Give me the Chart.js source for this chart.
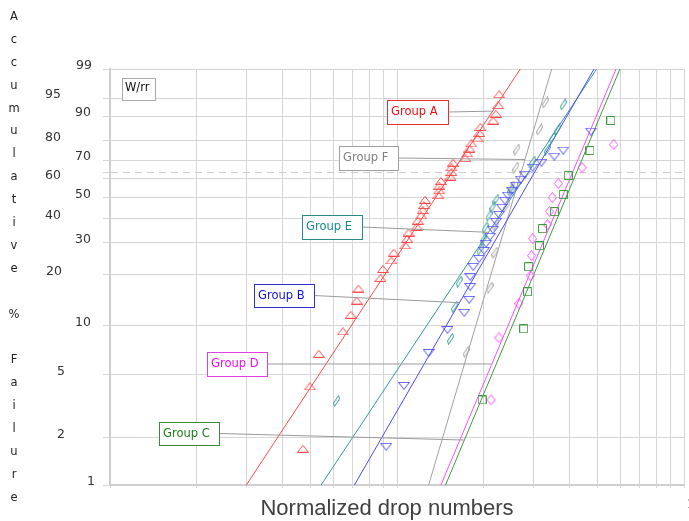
<!DOCTYPE html>
<html>
<head>
<meta charset="utf-8">
<script src="https://cdn.jsdelivr.net/npm/chart.js@4.4.0/dist/chart.umd.min.js"></script>
<style>
html, body { margin: 0; padding: 0; background: #fff; }
</style>
</head>
<body>
<canvas id="plot" width="689" height="521"></canvas>
<script>
// percent failure tick labels (Weibull probability scale)
const yTickPercents = [1, 2, 5, 10, 20, 30, 40, 50, 60, 70, 80, 90, 95, 99];
const characteristicPct = 63.2;
const xTicks = [1, 2, 3, 4, 5, 6, 7, 8, 9, 10, 20, 30, 40, 50, 60, 70, 80, 90, 100];

const groupNames = ['Group A', 'Group B', 'Group C', 'Group D', 'Group E', 'Group F'];

const aDrops = [4.70, 4.97, 5.34, 6.48, 6.90, 7.24, 7.34, 8.76, 8.93, 9.56, 9.74, 10.68, 10.85, 10.97, 11.72, 11.81, 12.13, 12.29, 12.42, 12.52, 13.93, 14.04, 14.04, 14.22, 15.36, 15.48, 15.48, 15.69, 17.30, 17.57, 17.89, 18.14, 19.12, 19.37, 19.53, 21.65, 22.12, 22.53, 22.71];
const aPct = [1.7, 4.2, 6.7, 9.2, 11.6, 14.1, 16.6, 19.1, 21.5, 24.0, 26.5, 29.0, 31.4, 33.9, 36.4, 38.9, 41.3, 43.8, 46.3, 48.8, 51.2, 53.7, 56.2, 58.7, 61.1, 63.6, 66.1, 68.6, 71.0, 73.5, 76.0, 78.5, 80.9, 83.4, 85.9, 88.4, 90.8, 93.3, 95.8];

const bDrops = [9.17, 10.57, 12.89, 14.99, 17.16, 17.85, 17.99, 17.99, 18.43, 19.33, 20.11, 20.43, 21.09, 21.60, 22.12, 22.66, 23.20, 23.76, 24.33, 25.12, 25.93, 26.98, 27.85, 29.68, 31.87, 35.34, 37.96, 47.41];
const bPct = [1.75, 4.24, 6.80, 9.41, 11.94, 14.27, 17.0, 19.43, 22.14, 24.55, 27.16, 29.66, 32.29, 35.09, 38.51, 41.67, 45.01, 48.47, 51.03, 53.6, 56.27, 59.5, 62.18, 66.0, 68.67, 71.88, 74.98, 84.01];

const cDrops = [19.8, 27.64, 28.51, 28.74, 31.37, 32.13, 35.34, 37.96, 39.51, 47.03, 55.57];
const cPct = [3.46, 9.55, 15.91, 22.14, 28.92, 35.51, 43.09, 51.52, 61.67, 74.98, 88.44];

const dDrops = [21.26, 22.66, 26.56, 29.21, 29.44, 29.68, 33.44, 33.96, 34.78, 36.48, 44.15, 56.92];
const dPct = [3.46, 8.41, 13.52, 19.70, 25.52, 31.50, 37.2, 43.09, 49.98, 57.35, 66.0, 78.0];

const eDrops = [6.16, 15.36, 15.85, 16.49, 19.49, 19.95, 20.27, 20.93, 21.60, 22.12, 24.93, 29.68, 33.44, 34.78, 36.19, 37.96];
const ePct = [3.41, 8.30, 12.96, 18.19, 27.51, 31.14, 35.94, 41.23, 45.48, 48.98, 54.14, 69.2, 75.5, 81.34, 84.88, 93.49];

const fDrops = [17.43, 21.09, 21.95, 22.12, 24.14, 25.12, 25.93, 26.14, 31.37, 32.9];
const fPct = [6.90, 16.79, 26.5, 37.2, 45.97, 55.72, 66.0, 75.5, 84.88, 93.99];

// fitted lines: drop number at 1% and at 99%
const lineLow = [2.985, 7.108, 14.76, 14.22, 5.439, 12.89];
const lineHigh = [26.9, 48.6, 59.8, 58.0, 49.6, 34.6];
// where each label's leader touches its line (percent)
const leaderPct = [91.6, 13.7, 1.93, 5.8, 34, 70.3];

// styles
const markColours = ['#ff4a4a', '#4a4aff', '#3c9c3c', '#ff4cff', '#3a9a9a', '#a0a0a0'];
const textColours = ['#e81010', '#1010e0', '#1a801a', '#f010f0', '#1a8a8a', '#808080'];
const boxColours = ['#e83030', '#3030d0', '#3a8a3a', '#e040e0', '#2a8a8a', '#a0a0a0'];
const boxes = [[387, 100, 61, 24], [254, 284, 60, 23], [159, 422, 60, 23], [207, 352, 60, 24], [302, 215, 60, 24], [339, 146, 59, 24]];
const yLabelRight = [95, 65, 65, 91, 62, 91, 61, 91, 61, 91, 61, 91, 61, 92];

function weib(p) {
    return Math.log(-Math.log(1 - p / 100));
}

function marker(w, h, colour, pts) {
    const c = document.createElement('canvas');
    c.width = w;
    c.height = h;
    const g = c.getContext('2d');
    g.strokeStyle = colour;
    g.lineWidth = 1;
    g.beginPath();
    g.moveTo(pts[0][0], pts[0][1]);
    for (let i = 1; i < pts.length; i++) g.lineTo(pts[i][0], pts[i][1]);
    g.closePath();
    g.stroke();
    return c;
}

const slant = [[5.5, 0.5], [6.5, 4], [1.5, 11.5], [0.5, 8]];
const markers = [
    marker(12, 8, markColours[0], [[0.5, 7.5], [6, 0.5], [11.5, 7.5]]),
    marker(12, 8, markColours[1], [[0.5, 0.5], [11.5, 0.5], [6, 7.5]]),
    marker(9, 9, markColours[2], [[0.5, 0.5], [8.5, 0.5], [8.5, 8.5], [0.5, 8.5]]),
    marker(9, 11, markColours[3], [[4.5, 0.5], [8.5, 5.5], [4.5, 10.5], [0.5, 5.5]]),
    marker(7, 12, markColours[4], slant),
    marker(7, 12, markColours[5], slant)
];

const drops = [aDrops, bDrops, cDrops, dDrops, eDrops, fDrops];
const pcts = [aPct, bPct, cPct, dPct, ePct, fPct];

let datasets = [];
drops.forEach((xs, g) => {
    datasets.push({
        label: groupNames[g],
        data: xs.map((v, i) => ({x: v, y: weib(pcts[g][i])})),
        pointStyle: markers[g],
        pointRadius: 4,
        showLine: false
    });
});
lineLow.forEach((lo, g) => {
    datasets.push({
        label: groupNames[g] + ' fit',
        data: [{x: lo, y: weib(1)}, {x: lineHigh[g], y: weib(99)}],
        showLine: true,
        borderColor: markColours[g],
        borderWidth: 1,
        pointRadius: 0
    });
});

const charY = weib(characteristicPct);

const overlay = {
    id: 'overlay',
    afterDraw(chart) {
        const {ctx, scales: {x, y}} = chart;
        ctx.save();

        // staggered percent labels
        ctx.font = '12.5px "DejaVu Sans"';
        ctx.fillStyle = '#333';
        ctx.textAlign = 'right';
        ctx.textBaseline = 'middle';
        yTickPercents.forEach((p, i) => {
            ctx.fillText(String(p), yLabelRight[i], y.getPixelForValue(weib(p)) - 3);
        });
        ctx.textAlign = 'left';
        ctx.fillText('1', 687, 505);

        // vertical axis title, one letter per line
        ctx.font = '11.5px "DejaVu Sans"';
        ctx.fillStyle = '#222';
        ctx.textAlign = 'center';
        const title = 'Accumulative % Failure';
        for (let i = 0; i < title.length; i++) {
            ctx.fillText(title[i], 14, 17 + i * 22.9);
        }

        // x axis title
        ctx.font = '22px "Liberation Sans"';
        ctx.fillStyle = '#404040';
        ctx.fillText('Normalized drop numbers', 387, 509);

        // leader lines
        const w1 = weib(1), w99 = weib(99);
        ctx.strokeStyle = '#9a9a9a';
        ctx.lineWidth = 1;
        groupNames.forEach((name, g) => {
            const b = boxes[g];
            const w = weib(leaderPct[g]);
            const t = (w - w1) / (w99 - w1);
            const lx = Math.exp(Math.log(lineLow[g]) + t * (Math.log(lineHigh[g]) - Math.log(lineLow[g])));
            ctx.beginPath();
            ctx.moveTo(b[0] + b[2], b[1] + b[3] / 2);
            ctx.lineTo(x.getPixelForValue(lx), y.getPixelForValue(w));
            ctx.stroke();
        });

        // label boxes
        ctx.font = '11.5px "DejaVu Sans"';
        ctx.textAlign = 'left';
        groupNames.forEach((name, g) => {
            const b = boxes[g];
            ctx.fillStyle = '#fff';
            ctx.fillRect(b[0], b[1], b[2], b[3]);
            ctx.strokeStyle = boxColours[g];
            ctx.strokeRect(b[0] + 0.5, b[1] + 0.5, b[2], b[3]);
            ctx.fillStyle = textColours[g];
            ctx.fillText(name, b[0] + 4, b[1] + b[3] / 2 + 0.5);
        });

        ctx.fillStyle = '#fff';
        ctx.fillRect(122, 78, 33, 22);
        ctx.strokeStyle = '#aaa';
        ctx.strokeRect(122.5, 78.5, 33, 22);
        ctx.fillStyle = '#111';
        ctx.fillText('W/rr', 125, 88.5);

        ctx.restore();
    }
};

new Chart(document.getElementById('plot'), {
    type: 'scatter',
    data: {datasets: datasets},
    options: {
        responsive: false,
        animation: false,
        devicePixelRatio: 1,
        layout: {padding: {left: 110, top: 69, right: 1, bottom: 36}},
        plugins: {
            legend: {display: false},
            tooltip: {enabled: false}
        },
        scales: {
            x: {
                type: 'logarithmic',
                min: 1,
                max: 100,
                afterBuildTicks: s => { s.ticks = xTicks.map(v => ({value: v})); },
                afterFit: s => { s.height = 0; },
                ticks: {display: false},
                grid: {color: '#d6d6d6', tickColor: '#d6d6d6', tickLength: 3},
                border: {color: '#cfcfcf', width: 2}
            },
            y: {
                type: 'linear',
                min: weib(1),
                max: weib(99),
                afterBuildTicks: s => {
                    s.ticks = yTickPercents.concat([characteristicPct]).map(p => ({value: weib(p)}));
                },
                afterFit: s => { s.width = 0; },
                ticks: {display: false},
                grid: {
                    color: ctx => (ctx.tick && ctx.tick.value === charY) ? '#cccccc' : '#d6d6d6',
                    tickColor: '#d6d6d6',
                    tickLength: 7
                },
                border: {
                    color: '#cfcfcf',
                    width: 2,
                    dash: ctx => (ctx.tick && ctx.tick.value === charY) ? [7, 5] : []
                }
            }
        }
    },
    plugins: [overlay]
});
</script>
</body>
</html>
